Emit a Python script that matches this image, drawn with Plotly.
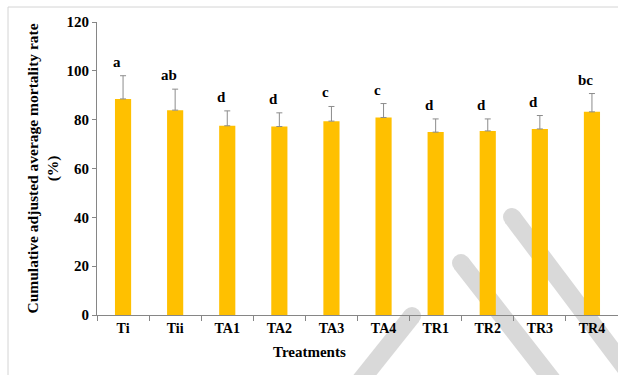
import plotly.graph_objects as go

# Cumulative adjusted average mortality (%) per treatment
treatments = ["Ti", "Tii", "TA1", "TA2", "TA3", "TA4", "TR1", "TR2", "TR3", "TR4"]
mortality = [88.5, 83.9, 77.5, 77.2, 79.4, 80.9, 74.9, 75.4, 76.2, 83.2]
std_error = [9.5, 8.6, 6.1, 5.6, 6.0, 5.7, 5.4, 4.9, 5.5, 7.5]
groups = ["a", "ab", "d", "d", "c", "c", "d", "d", "d", "bc"]

W, H = 618, 375
ML, MR, MT, MB = 97, 0, 22, 60
PW, PH = W - ML - MR, H - MT - MB

SERIF = "'Liberation Serif', 'Times New Roman', Times, serif"
AXIS_GREY = "#868686"


def px_x(x):
    return (x - ML) / PW


def px_y(y):
    return (H - MB - y) / PH


def bold(s):
    return "<b>" + s + "</b>"


fig = go.Figure()
fig.add_trace(go.Bar(
    x=treatments,
    y=mortality,
    marker=dict(color="#FFC000", line=dict(width=0)),
    width=0.31,
    error_y=dict(type="data", array=std_error, arrayminus=[0] * len(std_error),
                 symmetric=False, color="#8c8c8c", thickness=1, width=3),
    showlegend=False,
    hoverinfo="x+y",
))

annotations = []
for t, v, e, g in zip(treatments, mortality, std_error, groups):
    annotations.append(dict(
        x=t, y=v + e, xref="x", yref="y", text=bold(g), showarrow=False,
        yanchor="middle", xanchor="center", yshift=14, xshift=-6,
        font=dict(family=SERIF, size=15, color="black"),
    ))

# axis titles
annotations.append(dict(
    x=px_x(42), y=0.5, xref="paper", yref="paper", showarrow=False,
    text=bold("Cumulative adjusted average mortality rate") + "<br>" + bold("(%)"),
    textangle=-90, xanchor="center", yanchor="middle",
    font=dict(family=SERIF, size=15.5, color="black"),
))
annotations.append(dict(
    x=px_x(309), y=px_y(352), xref="paper", yref="paper", showarrow=False,
    text=bold("Treatments"), xanchor="center", yanchor="middle",
    font=dict(family=SERIF, size=15, color="black"),
))

shapes = []
# outer chart frame
shapes.append(dict(type="rect", xref="paper", yref="paper",
                   x0=px_x(8), y0=px_y(7), x1=px_x(W + 40), y1=px_y(H + 40),
                   line=dict(color="#d4d4d4", width=1), layer="below"))

# grey diagonal background bands with rounded tops
bands = [((412, 316), (341, 405)), ((461, 263), (570, 403)), ((512, 217), (651, 402))]
band_col = "#d9d9d9"
r = 9
for (xa, ya), (xb, yb) in bands:
    shapes.append(dict(type="line", xref="paper", yref="paper",
                       x0=px_x(xa), y0=px_y(ya), x1=px_x(xb), y1=px_y(yb),
                       line=dict(color=band_col, width=2 * r), layer="below"))
    shapes.append(dict(type="circle", xref="paper", yref="paper",
                       x0=px_x(xa - r), y0=px_y(ya - r), x1=px_x(xa + r), y1=px_y(ya + r),
                       fillcolor=band_col, line=dict(width=0), layer="below"))

y_ticks = list(range(0, 121, 20))

fig.update_layout(
    width=W, height=H,
    margin=dict(l=ML, r=MR, t=MT, b=MB),
    paper_bgcolor="white",
    plot_bgcolor="rgba(0,0,0,0)",
    bargap=0.69,
    annotations=annotations,
    shapes=shapes,
    xaxis=dict(
        showline=True, linecolor=AXIS_GREY, linewidth=1,
        ticks="outside", tickson="boundaries", ticklen=5, tickcolor=AXIS_GREY,
        showgrid=False, range=[-0.5, 9.5],
        tickmode="array", tickvals=treatments, ticktext=[bold(t) for t in treatments],
        tickfont=dict(family=SERIF, size=14, color="black"),
    ),
    yaxis=dict(
        range=[0, 120], showline=True, linecolor=AXIS_GREY, linewidth=1,
        ticks="outside", ticklen=4, tickcolor=AXIS_GREY,
        showgrid=False, zeroline=False,
        tickmode="array", tickvals=y_ticks, ticktext=[bold(str(v)) for v in y_ticks],
        tickfont=dict(family=SERIF, size=15, color="black"),
    ),
)

fig.write_html("out.html")
